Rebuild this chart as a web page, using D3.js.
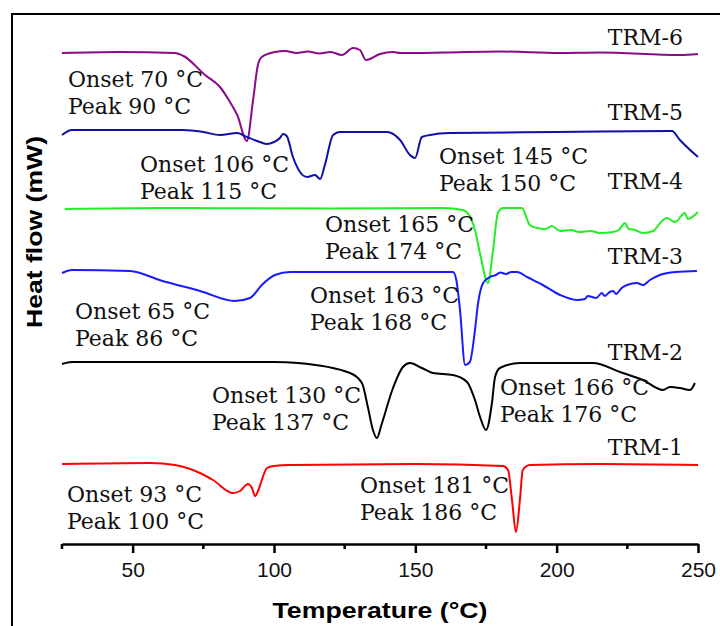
<!DOCTYPE html>
<html><head><meta charset="utf-8">
<script src="https://cdn.jsdelivr.net/npm/d3@7"></script>
<style>html,body{margin:0;padding:0;background:#fff;}svg{display:block;}</style>
</head><body>
<svg id="chart" width="720" height="626"></svg>
<script>
// ---- data (temperature °C, heat flow arbitrary units, stacked) ----
const seriesNames = ["TRM-6","TRM-5","TRM-4","TRM-3","TRM-2","TRM-1"];
const trm6 = [[25,49.2],[45,49.3],[65,49.2],[68,48.9],[75.6,47.0],[80.9,45.8],[84,44.5],[87,43.0],[90.4,40.4],[92.6,44.5],[94.3,48.0],[95.7,48.8],[100.3,49.3],[103.9,49.4],[108,49.2],[112,49.35],[116,49.15],[120,49.3],[124,49.0],[128,49.7],[130.4,49.5],[132.5,48.5],[137.5,49.1],[142.1,49.3],[144.6,49.2],[160,49.25],[180,49.35],[201,49.2],[215,49.25],[243.6,49.0],[250,49.1]];
const trm5 = [[25,41.0],[28.5,41.5],[45,41.5],[67.8,41.5],[75,41.3],[80.9,41.0],[86.9,41.2],[90.4,40.8],[95,40.3],[97.5,40.1],[100,40.3],[102.1,40.7],[103.2,41.1],[104.5,40.9],[106.7,38.8],[109.2,37.3],[111.7,36.8],[114.5,37.0],[116.3,36.6],[118,38.0],[120.9,41.0],[123.3,41.3],[140,41.3],[144.6,40.5],[148.1,39.0],[149.9,38.7],[152.3,40.8],[155.2,41.0],[162.2,41.2],[200,41.3],[240.8,41.4],[243.6,40.5],[250,38.8]];
const trm4 = [[26,33.6],[60,33.7],[120,33.65],[160,33.7],[166.8,33.5],[169,33.0],[171.1,31.5],[173,29.0],[175.7,26.2],[177.5,29.5],[179.2,33.2],[181,33.7],[187.7,33.7],[190.5,32.0],[193,31.7],[196,31.6],[198.3,31.9],[201.2,31.4],[205,31.5],[208,31.3],[212,31.4],[215.3,31.2],[219.9,31.3],[222,31.5],[224.2,32.2],[225.5,31.6],[227.7,31.5],[230.5,31.2],[234.1,31.4],[237.6,32.5],[239,32.7],[241.8,32.3],[245.4,33.2],[246.4,32.6],[250,33.3]];
const trm3 = [[25,27.2],[28.5,27.5],[49.1,27.4],[60,26.45],[73.8,25.4],[86.2,24.4],[91.5,24.7],[95.7,26.0],[100.3,27.0],[105.7,27.3],[130,27.3],[163.3,27.3],[164.5,26.5],[165.8,23.5],[167.6,18.0],[169.3,18.3],[171.1,21.5],[172.2,24.2],[174,26.2],[176.4,26.8],[178.5,27.0],[180,27.25],[182,27.1],[184,27.3],[186,27.3],[189.5,26.8],[195.1,26.0],[201.2,25.0],[207.2,24.5],[210,24.6],[211,24.9],[214,24.7],[216,25.2],[217,24.9],[218.8,25.3],[220,25.4],[221,25.1],[223,25.7],[224.9,26.0],[228.4,26.2],[230.5,26.0],[233,26.5],[236.5,27.0],[242.2,27.3],[249.6,27.4]];
const trm2 = [[25,18.1],[28.5,18.3],[60,18.3],[100,18.3],[108.5,18.2],[126.9,17.2],[131.1,16.2],[133.2,13.8],[135,11.5],[136.4,10.7],[138,12.0],[142.1,15.7],[145.6,17.8],[148.1,18.2],[152.3,17.7],[156.2,17.2],[163.3,17.0],[168.3,16.3],[171.1,14.5],[172.9,12.8],[175,11.5],[177.1,14.2],[178.2,16.8],[179.9,17.7],[187,18.2],[212.8,18.2],[222.4,17.3],[230.5,16.5],[237.6,15.5],[240.1,15.8],[243.6,15.7],[247.2,15.5],[248.9,16.2]];
const trm1 = [[25,8.1],[56.1,8.2],[65,8.0],[73.8,7.2],[78.4,6.5],[85.5,5.2],[88,5.4],[90.8,6.1],[92.2,5.7],[93.3,4.9],[94.5,5.5],[95.7,6.5],[97.5,7.7],[100,7.9],[105.7,8.0],[150,8.1],[181,7.9],[182.8,7.5],[184.2,4.5],[185.6,1.3],[187,4.5],[188,7.5],[190.5,8.0],[215.3,8.1],[250,8.0]];
const seriesData = [trm6, trm5, trm4, trm3, trm2, trm1];
const majorTicks = [50,100,150,200,250];
const minorTicks = [25,75,125,175,225];
const annotations = [
  ["Onset 70 °C","Peak 90 °C"],
  ["Onset 106 °C","Peak 115 °C"],
  ["Onset 145 °C","Peak 150 °C"],
  ["Onset 165 °C","Peak 174 °C"],
  ["Onset 65 °C","Peak 86 °C"],
  ["Onset 163 °C","Peak 168 °C"],
  ["Onset 130 °C","Peak 137 °C"],
  ["Onset 166 °C","Peak 176 °C"],
  ["Onset 93 °C","Peak 100 °C"],
  ["Onset 181 °C","Peak 186 °C"]
];

// ---- layout / style ----
const colors = ["#8a0a8a","#1010a8","#22ee22","#1a1aff","#000000","#ff0000"];
const nameBaselines = [45,120,189,264,360,455];
const annPos = [[68,87],[140,172],[439,164],[325,232],[75,319],[310,303],[212,403],[500,395],[67,502],[360,493]];

const svg = d3.select("#chart");
const x = d3.scaleLinear().domain([25,250]).range([62,698]);
const y = d3.scaleLinear().domain([0,53]).range([545,15]);
const axisY = 544;

// frame
svg.append("rect").attr("x",12).attr("y",14).attr("width",800).attr("height",700)
  .attr("fill","none").attr("stroke","#000").attr("stroke-width",2);

// curves
const line = d3.line().x(d=>x(d[0])).y(d=>y(d[1])).curve(d3.curveMonotoneX);
seriesData.forEach((s,i)=>{
  svg.append("path").datum(s).attr("d",line).attr("fill","none")
    .attr("stroke",colors[i]).attr("stroke-width",2).attr("stroke-linejoin","round");
});

// series names
seriesNames.forEach((n,i)=>{
  svg.append("text").attr("x",683).attr("y",nameBaselines[i]).attr("text-anchor","end")
    .attr("font-family","'DejaVu Serif', serif").attr("font-size",22).attr("fill","#111").text(n);
});

// annotations
annotations.forEach((a,i)=>{
  const g = svg.append("text").attr("font-family","'DejaVu Serif', serif").attr("font-size",22).attr("fill","#111");
  g.append("tspan").attr("x",annPos[i][0]).attr("y",annPos[i][1]).text(a[0]);
  g.append("tspan").attr("x",annPos[i][0]).attr("y",annPos[i][1]+27).text(a[1]);
});

// x axis
const ax = svg.append("g").attr("transform",`translate(0,${axisY})`);
ax.call(d3.axisBottom(x).tickValues(majorTicks).tickSize(9).tickSizeOuter(0).tickFormat(d3.format("d")));
ax.select(".domain").attr("stroke-width",2.5);
ax.selectAll(".tick line").attr("stroke-width",2.5);
ax.selectAll(".tick text").attr("font-family","'Liberation Sans', Arial, sans-serif")
  .attr("font-size",21).attr("fill","#111").attr("y",18);
ax.selectAll(".minor").data(minorTicks).enter().append("line").attr("class","minor")
  .attr("x1",d=>x(d)).attr("x2",d=>x(d)).attr("y1",0).attr("y2",5)
  .attr("stroke","#000").attr("stroke-width",2.5);

// axis titles
svg.append("text").attr("x",380).attr("y",618).attr("text-anchor","middle")
  .attr("font-family","'Liberation Sans', Arial, sans-serif").attr("font-weight","bold")
  .attr("font-size",22).attr("textLength",215).attr("lengthAdjust","spacingAndGlyphs").text("Temperature (°C)");
svg.append("text").attr("transform","translate(42,232) rotate(-90)").attr("text-anchor","middle")
  .attr("font-family","'Liberation Sans', Arial, sans-serif").attr("font-weight","bold")
  .attr("font-size",22).attr("textLength",192).attr("lengthAdjust","spacingAndGlyphs").text("Heat flow (mW)");
</script>
</body></html>
